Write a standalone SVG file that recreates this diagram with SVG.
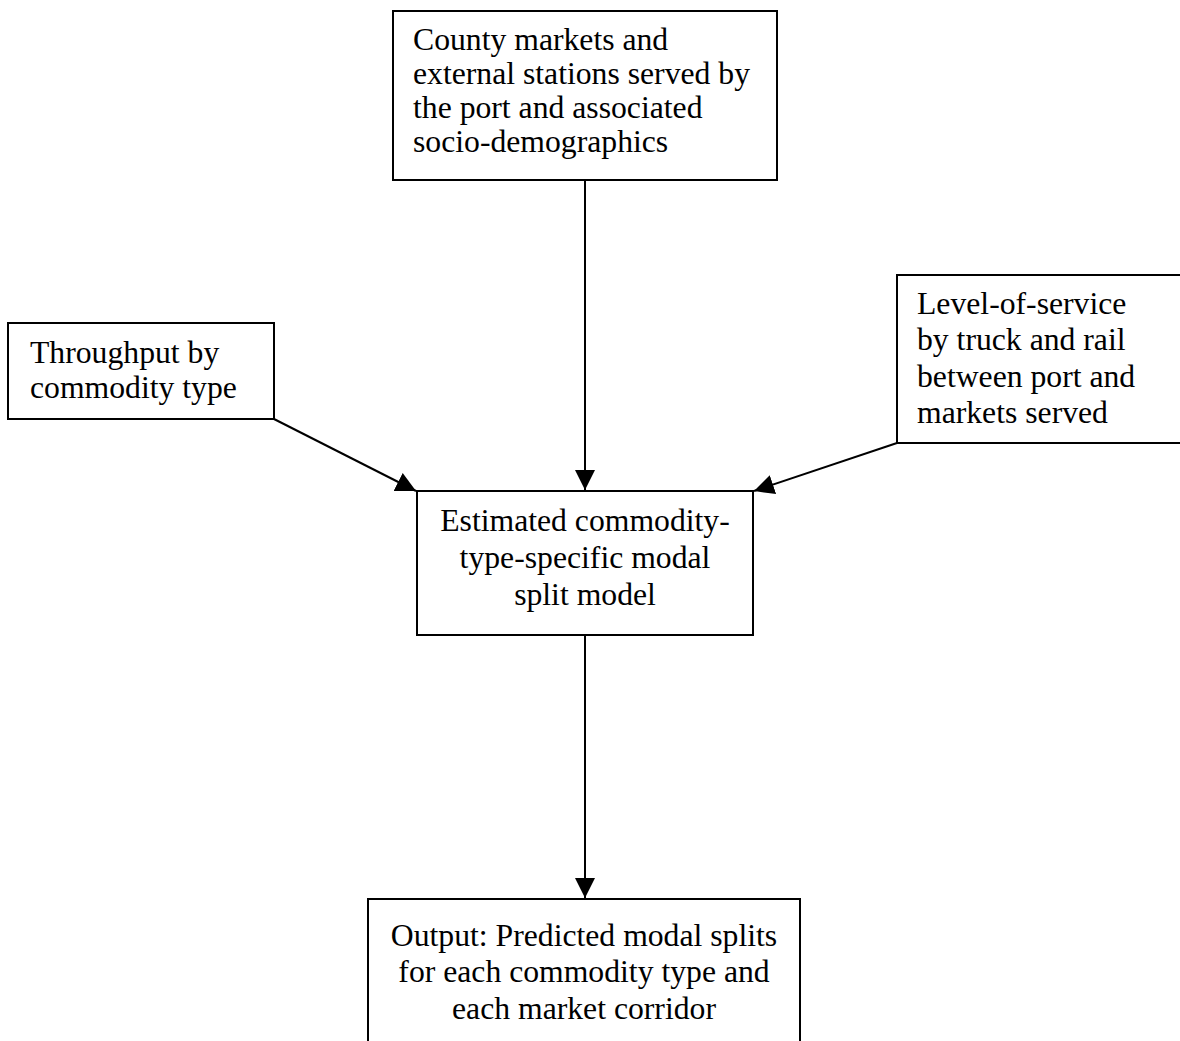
<svg xmlns="http://www.w3.org/2000/svg" width="1180" height="1041" viewBox="0 0 1180 1041">
<style>
.box{fill:#fff;stroke:#000;stroke-width:2}
.t{font-family:"Liberation Serif","Times New Roman",serif;font-size:31.7px;fill:#000}
.c{text-anchor:middle}
.edge{stroke:#000;stroke-width:2;fill:none}
</style>
<defs>
<marker id="ah" viewBox="0 0 10 10" refX="10" refY="5" markerWidth="10" markerHeight="10" markerUnits="strokeWidth" orient="auto">
<path d="M0,0 L10,5 L0,10 Z" fill="#000"/>
</marker>
</defs>
<rect width="1180" height="1041" fill="#fff"/>
<g id="connectors">
<line class="edge" x1="585" y1="180" x2="585" y2="490" marker-end="url(#ah)"/>
<line class="edge" x1="274" y1="419" x2="416" y2="491" marker-end="url(#ah)"/>
<line class="edge" x1="897" y1="443" x2="754" y2="491" marker-end="url(#ah)"/>
<line class="edge" x1="585" y1="635" x2="585" y2="898" marker-end="url(#ah)"/>
</g>
<g id="county">
<rect class="box" x="393" y="11" width="384" height="169"/>
<text class="t" x="413" y="50">County markets and</text>
<text class="t" x="413" y="84">external stations served by</text>
<text class="t" x="413" y="118">the port and associated</text>
<text class="t" x="413" y="152">socio-demographics</text>
</g>
<g id="throughput">
<rect class="box" x="8" y="323" width="266" height="96"/>
<text class="t" x="30" y="363">Throughput by</text>
<text class="t" x="30" y="398">commodity type</text>
</g>
<g id="los">
<rect class="box" x="897" y="275" width="300" height="168"/>
<text class="t" x="917" y="314">Level-of-service</text>
<text class="t" x="917" y="350">by truck and rail</text>
<text class="t" x="917" y="387">between port and</text>
<text class="t" x="917" y="423">markets served</text>
</g>
<g id="model">
<rect class="box" x="417" y="491" width="336" height="144"/>
<text class="t c" x="585" y="531">Estimated commodity-</text>
<text class="t c" x="585" y="568">type-specific modal</text>
<text class="t c" x="585" y="605">split model</text>
</g>
<g id="output">
<rect class="box" x="368" y="899" width="432" height="160"/>
<text class="t c" x="584" y="946">Output: Predicted modal splits</text>
<text class="t c" x="584" y="982">for each commodity type and</text>
<text class="t c" x="584" y="1019">each market corridor</text>
</g>
</svg>
